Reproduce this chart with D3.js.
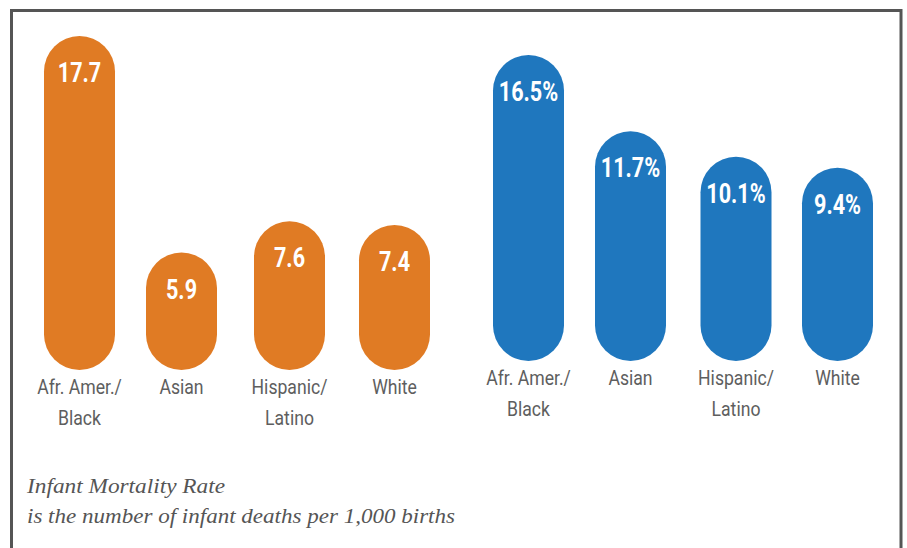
<!DOCTYPE html>
<html><head><meta charset="utf-8">
<script src="https://cdn.jsdelivr.net/npm/d3@7"></script>
<style>body{margin:0;background:#fff;}svg{display:block;}</style>
</head><body>
<svg id="chart" width="907" height="548"></svg>
<script>
const categories = ["Afr. Amer./|Black", "Asian", "Hispanic/|Latino", "White"];
const leftValues = [17.7, 5.9, 7.6, 7.4];
const leftLabels = ["17.7", "5.9", "7.6", "7.4"];
const rightValues = [16.5, 11.7, 10.1, 9.4];
const rightLabels = ["16.5%", "11.7%", "10.1%", "9.4%"];
const noteLines = ["Infant Mortality Rate", "is the number of infant deaths per 1,000 births"];

const svg = d3.select("#chart");
svg.append("rect").attr("x", 11.5).attr("y", 10.5).attr("width", 889.5).attr("height", 560)
  .attr("fill", "none").attr("stroke", "#555").attr("stroke-width", 3);

const barW = 71;
function panel(values, labels, cfg) {
  const x = d3.scaleOrdinal().domain(categories).range(cfg.centers);
  const y = d3.scaleLinear().domain(cfg.domain).range([cfg.base, cfg.topY]);
  const g = svg.append("g");
  categories.forEach((c, i) => {
    const cx = x(c), top = y(values[i]), h = cfg.base - top;
    g.append("rect").attr("x", cx - barW / 2).attr("y", top).attr("width", barW).attr("height", h)
      .attr("rx", barW / 2).attr("ry", barW / 2).attr("fill", cfg.color);
    g.append("text").attr("transform", `translate(${cx},${top + 46}) scale(0.8,1)`).attr("text-anchor", "middle")
      .attr("fill", "#fff").attr("font-family", "Roboto, sans-serif")
      .attr("font-weight", "bold").attr("font-size", 27).text(labels[i]);
    c.split("|").forEach((line, j) => {
      g.append("text").attr("transform", `translate(${cx},${cfg.base + 24 + j * 31}) scale(0.84,1)`).attr("text-anchor", "middle")
        .attr("fill", "#5e5e5e").attr("font-family", "Roboto, sans-serif").attr("font-weight", 400)
        .attr("font-size", 21).text(line);
    });
  });
}
panel(leftValues, leftLabels, {centers: [79.5, 181.5, 289.5, 394.5], domain: [-0.5, 17.7], base: 370, topY: 36, color: "#E07B24"});
panel(rightValues, rightLabels, {centers: [528.5, 630.5, 736, 837.5], domain: [-2.75, 16.5], base: 361, topY: 55, color: "#1F77BE"});

const noteWidths = [198, 428];
noteLines.forEach((t, i) => {
  svg.append("text").attr("x", 27).attr("y", 493 + i * 30).attr("fill", "#555")
    .attr("font-family", "'Liberation Serif', serif").attr("font-style", "italic")
    .attr("font-size", 22).attr("textLength", noteWidths[i]).attr("lengthAdjust", "spacingAndGlyphs").text(t);
});
</script>
</body></html>
